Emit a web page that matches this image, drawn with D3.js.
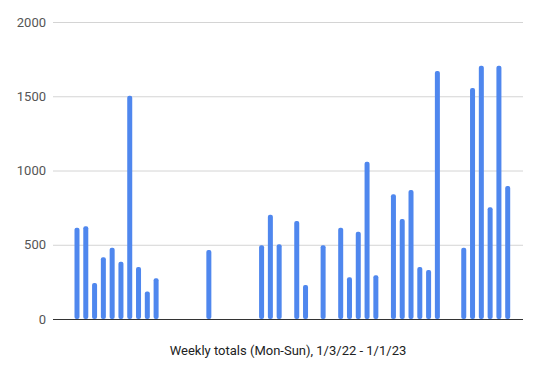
<!DOCTYPE html>
<html>
<head>
<meta charset="utf-8">
<script src="https://cdn.jsdelivr.net/npm/d3@7"></script>
<style>
  body { margin: 0; background: #fff; }
  svg { display: block; font-family: Roboto, "Noto Sans", sans-serif; }
</style>
</head>
<body>
<div id="chart"></div>
<script>
// week index 0..51 (Mon-Sun weeks starting 1/3/22)
const weeks = d3.range(52);
const weeklyTotals = [
    615, 624, 242, 415, 480, 386, 1504, 350, 186, 274,
    0, 0, 0, 0, 0, 465, 0, 0, 0, 0,
    0, 496, 702, 503, 0, 660, 229, 0, 496, 0,
    615, 281, 588, 1059, 294, 0, 840, 673, 869, 350,
    330, 1670, 0, 0, 480, 1556, 1706, 752, 1706, 896,
    0, 0
];
const yTicks = [0, 500, 1000, 1500, 2000];
const xTitle = "Weekly totals (Mon-Sun), 1/3/22 - 1/1/23";

const width = 540, height = 372;
const plot = {left: 53, right: 523, top: 22, bottom: 319};

let data = [];
weeks.forEach((w, i) => {
    data.push({ week: w, value: weeklyTotals[i] });
});

const svg = d3.select("#chart")
    .append("svg")
    .attr("width", width)
    .attr("height", height);

const x = d3.scaleBand()
    .domain(weeks)
    .range([72.6, 72.6 + 52 * 8.79])
    .paddingInner(0.43)
    .paddingOuter(0.215);

const y = d3.scaleLinear()
    .domain([0, 2000])
    .range([plot.bottom, plot.top]);

// gridlines + tick labels
const yAxis = svg.append("g")
    .attr("transform", `translate(${plot.left},0)`)
    .call(d3.axisLeft(y).tickValues(yTicks).tickFormat(d3.format("d"))
        .tickSize(-(plot.right - plot.left)).tickPadding(7));
yAxis.select(".domain").remove();
yAxis.selectAll(".tick line")
    .attr("stroke", d => d === 0 ? "#333" : "#d4d4d4")
    .attr("stroke-width", 1);
yAxis.selectAll(".tick text")
    .attr("fill", "#555")
    .style("font-size", "13px")
    .style("font-family", "Roboto, sans-serif");

// bars
svg.append("g")
    .selectAll("rect")
    .data(data.filter(d => d.value > 0))
    .join("rect")
    .attr("x", d => x(d.week))
    .attr("y", d => y(d.value))
    .attr("width", x.bandwidth())
    .attr("height", d => y(0) - y(d.value))
    .attr("rx", 2)
    .attr("fill", "#4f87ee");

// baseline on top
svg.append("line")
    .attr("x1", plot.left).attr("x2", plot.right)
    .attr("y1", y(0) + 0.5).attr("y2", y(0) + 0.5)
    .attr("stroke", "#333")
    .attr("stroke-width", 1);

svg.append("text")
    .attr("x", (plot.left + plot.right) / 2)
    .attr("y", 355)
    .attr("text-anchor", "middle")
    .attr("fill", "#222")
    .style("font-size", "13px")
    .text(xTitle);
</script>
</body>
</html>
